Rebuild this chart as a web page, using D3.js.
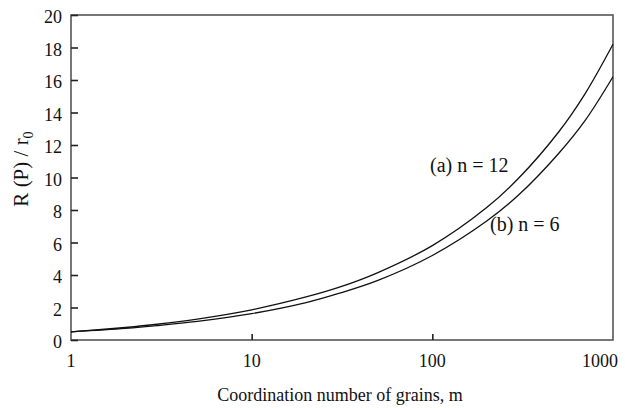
<!DOCTYPE html>
<html>
<head>
<meta charset="utf-8">
<script src="https://cdn.jsdelivr.net/npm/d3@7"></script>
<style>
  html, body { margin: 0; padding: 0; background: #fff; }
  svg { display: block; }
  text { font-family: "Liberation Serif", "Times New Roman", serif; fill: #111; }
</style>
</head>
<body>
<svg id="chart" width="625" height="408"></svg>
<script>
// Coordination number of grains (log axis)
const coordination = [1, 2, 3, 5, 10, 20, 30, 50, 100, 200, 300, 500, 700, 1000];
// R(P)/r0 for n = 12
const seriesA = [0.50, 0.77, 0.97, 1.29, 1.86, 2.65, 3.22, 4.15, 5.81, 8.15, 9.95, 12.80, 15.15, 18.20];
// R(P)/r0 for n = 6
const seriesB = [0.50, 0.71, 0.88, 1.14, 1.62, 2.30, 2.85, 3.67, 5.20, 7.32, 8.92, 11.48, 13.50, 16.20];
const xTicks = [1, 10, 100, 1000];
const yTicks = [0, 2, 4, 6, 8, 10, 12, 14, 16, 18, 20];

const svg = d3.select("#chart");
const plotLeft = 71, plotRight = 613, plotTop = 15, plotBottom = 340;

const x = d3.scaleLog().domain([1, 1000]).range([plotLeft, plotRight]);
const y = d3.scaleLinear().domain([0, 20]).range([plotBottom, plotTop]);

const axisColor = "#555";

// Frame
svg.append("rect")
  .attr("x", plotLeft).attr("y", plotTop)
  .attr("width", plotRight - plotLeft).attr("height", plotBottom - plotTop)
  .attr("fill", "none").attr("stroke", axisColor).attr("stroke-width", 1.6);

// Y axis: inward ticks
const yAxis = svg.append("g").attr("transform", `translate(${plotLeft},0)`)
  .call(d3.axisRight(y).tickValues(yTicks).tickSize(7).tickFormat(""));
yAxis.select(".domain").remove();
yAxis.selectAll("line").attr("stroke", "#222").attr("stroke-width", 1.6);

svg.append("g").selectAll("text").data(yTicks).join("text")
  .attr("x", 62).attr("y", d => y(d) + 8)
  .attr("text-anchor", "end").attr("font-size", 18)
  .text(d => d);

// X axis: inward ticks at interior decades
const xAxis = svg.append("g").attr("transform", `translate(0,${plotBottom})`)
  .call(d3.axisTop(x).tickValues(xTicks.slice(1, -1)).tickSize(6).tickFormat(""));
xAxis.select(".domain").remove();
xAxis.selectAll("line").attr("stroke", "#222").attr("stroke-width", 1.6);

svg.append("g").selectAll("text").data(xTicks).join("text")
  .attr("x", (d, i) => i === xTicks.length - 1 ? 618 : x(d))
  .attr("y", 367)
  .attr("text-anchor", (d, i) => i === xTicks.length - 1 ? "end" : "middle")
  .attr("font-size", 18)
  .text(d => d);

// Curves
const line = d3.line()
  .x((d, i) => x(coordination[i]))
  .y(d => y(d))
  .curve(d3.curveCatmullRom.alpha(0.5));

[seriesA, seriesB].forEach(s => {
  svg.append("path").datum(s)
    .attr("d", line)
    .attr("fill", "none")
    .attr("stroke", "#111")
    .attr("stroke-width", 1.3);
});

// Series labels
svg.append("text").attr("x", 430).attr("y", 172).attr("font-size", 20).text("(a) n = 12");
svg.append("text").attr("x", 490).attr("y", 231).attr("font-size", 20).text("(b) n = 6");

// Axis titles
svg.append("text")
  .attr("x", 340).attr("y", 401)
  .attr("text-anchor", "middle").attr("font-size", 18)
  .text("Coordination number of grains, m");

const yTitle = svg.append("text")
  .attr("transform", "translate(28,169) rotate(-90)")
  .attr("text-anchor", "middle").attr("font-size", 21);
yTitle.append("tspan").text("R (P) / r");
yTitle.append("tspan").attr("font-size", 14).attr("dy", 5).text("0");
</script>
</body>
</html>
